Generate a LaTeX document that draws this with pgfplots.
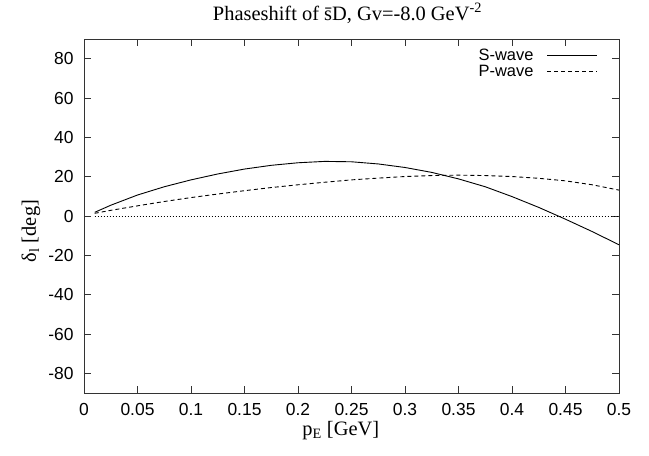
\documentclass[border=0pt]{standalone}
\usepackage{pgfplots}
\pgfplotsset{compat=1.18}
\usepackage{fontspec}
\setmainfont{Liberation Serif}
\newfontfamily\helv{Liberation Sans}

\pgfplotsset{
  legend image code/.code={\path (0bp,0bp); \draw[#1] (12bp,0bp) -- (62bp,0bp);},
}

\begin{document}
\begin{tikzpicture}
\begin{axis}[
  scale only axis,
  width=535bp, height=354bp,
  xmin=0, xmax=0.5, ymin=-90, ymax=90,
  xtick={0,0.05,...,0.5},
  ytick={-80,-60,...,80},
  xticklabels={0,0.05,0.1,0.15,0.2,0.25,0.3,0.35,0.4,0.45,0.5},
  yticklabels={-80,-60,-40,-20,0,20,40,60,80},
  tick pos=both, tick align=inside,
  major tick length=7bp,
  axis line style={line width=0.9bp, black!80},
  every tick/.style={line width=0.9bp, black!80},
  tick label style={font=\helv\fontsize{17.5}{20}\selectfont},
  xticklabel style={yshift=-7bp},
  yticklabel style={xshift=-7bp},
  title={Phaseshift of \={s}D, Gv=-8.0 GeV\textsuperscript{-2}},
  title style={font=\fontsize{20.5}{23}\selectfont, at={(axis description cs:0.4925,1)}, anchor=base, yshift=13bp},
  xlabel={p\textsubscript{E} [GeV]},
  xlabel style={font=\fontsize{20.5}{23}\selectfont, at={(axis description cs:0.48,0)}, anchor=base, yshift=-42bp},
  ylabel={δ\textsubscript{l} [deg]},
  ylabel style={font=\fontsize{20.5}{23}\selectfont, at={(axis description cs:-0.099,0.458)}, anchor=center},
  legend cell align=right,
  legend plot pos=right,
  legend style={draw=none, fill=none, inner sep=0pt, font=\helv\fontsize{16.5}{18}\selectfont,
    nodes={inner sep=1.5bp},
    at={(rel axis cs:1,1)}, anchor=north east, xshift=-21bp, yshift=-8bp,
    row sep=0bp},
]
\addplot[black, line width=0.9bp] coordinates {
  (0.01,2) (0.025,5.6) (0.05,10.8) (0.075,15) (0.1,18.5) (0.125,21.5)
  (0.15,24) (0.175,25.9) (0.2,27.2) (0.225,27.9) (0.25,27.7) (0.275,26.6)
  (0.3,24.8) (0.325,22.3) (0.35,19) (0.375,15) (0.4,10) (0.425,4.5)
  (0.45,-1.5) (0.475,-7.8) (0.5,-14.5)
};
\addlegendentry{S-wave}
\addplot[black, line width=0.9bp, dash pattern=on 4bp off 3bp] coordinates {
  (0.01,1.5) (0.025,3) (0.05,5.3) (0.075,7.5) (0.1,9.5) (0.125,11.3)
  (0.15,13) (0.175,14.6) (0.2,16) (0.225,17.3) (0.25,18.5) (0.275,19.4)
  (0.3,20.2) (0.325,20.7) (0.35,20.9) (0.375,20.7) (0.4,20.2) (0.425,19.3)
  (0.45,18) (0.475,16) (0.5,13.3)
};
\addlegendentry{P-wave}
\addplot[black, line width=0.8bp, dash pattern=on 1bp off 2bp, forget plot] coordinates {
  (0.01,0) (0.5,0)
};
\end{axis}
\path ([shift={(-84bp,-62bp)}]current axis.south west) rectangle ([shift={(30bp,39bp)}]current axis.north east);
\end{tikzpicture}
\end{document}
